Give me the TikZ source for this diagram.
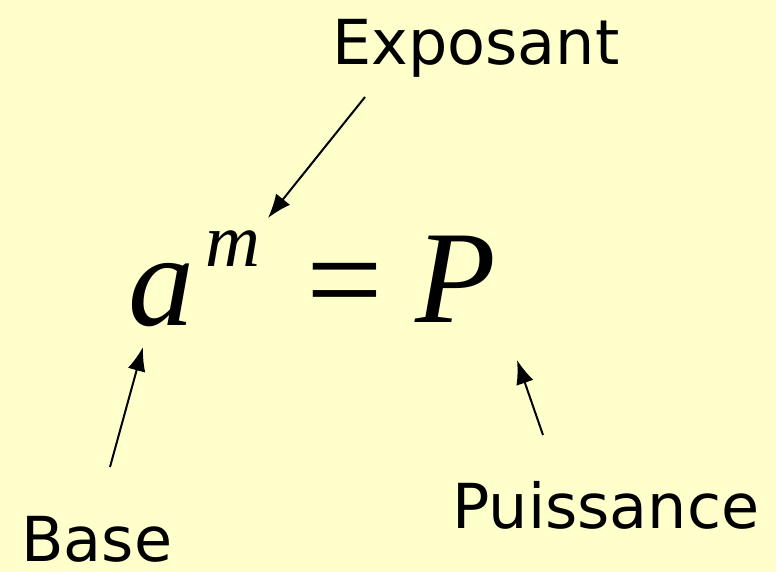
\documentclass[tikz,border=0pt]{standalone}
\usepackage{fontspec}
\setmainfont{Liberation Serif}
\newfontfamily\tagfont{DejaVu Sans}
\usetikzlibrary{arrows.meta}
\definecolor{backcolor}{HTML}{FFFFCC}

\begin{document}
\begin{tikzpicture}[
    x=0.5pt, y=-0.5pt,
    every node/.style={inner sep=0pt, anchor=base west},
    tagtext/.style={font=\tagfont\fontsize{31}{38}\selectfont},
    formula/.style={font=\fontsize{66}{70}\selectfont\itshape},
    pointer/.style={-{Latex[length=12pt,width=9pt]}, line width=1pt}
]
\fill[backcolor] (0,0) rectangle (776,572);
% the formula
\node[formula] (a) at (128,325) {a};
\node[formula, font=\fontsize{38}{40}\selectfont\itshape] (m) at (205,266) {m};
\node[formula, font=\fontsize{68}{70}\selectfont] (eq) at (306,325) {=};
\node[formula] (P) at (415,322) {P};
% the names
\node[tagtext] (expo) at (332,65) {Exposant};
\node[tagtext] (base) at (21,561) {Base};
\node[tagtext] (power) at (452,528) {Puissance};
% arrow ends
\coordinate (expo tail) at (365,97);
\coordinate (m tip) at (268,218);
\coordinate (base tail) at (110,467);
\coordinate (a tip) at (143,347);
\coordinate (power tail) at (543,435);
\coordinate (P tip) at (517,360);
\draw[pointer] (expo tail) -- (m tip);
\draw[pointer] (base tail) -- (a tip);
\draw[pointer] (power tail) -- (P tip);
\end{tikzpicture}
\end{document}
